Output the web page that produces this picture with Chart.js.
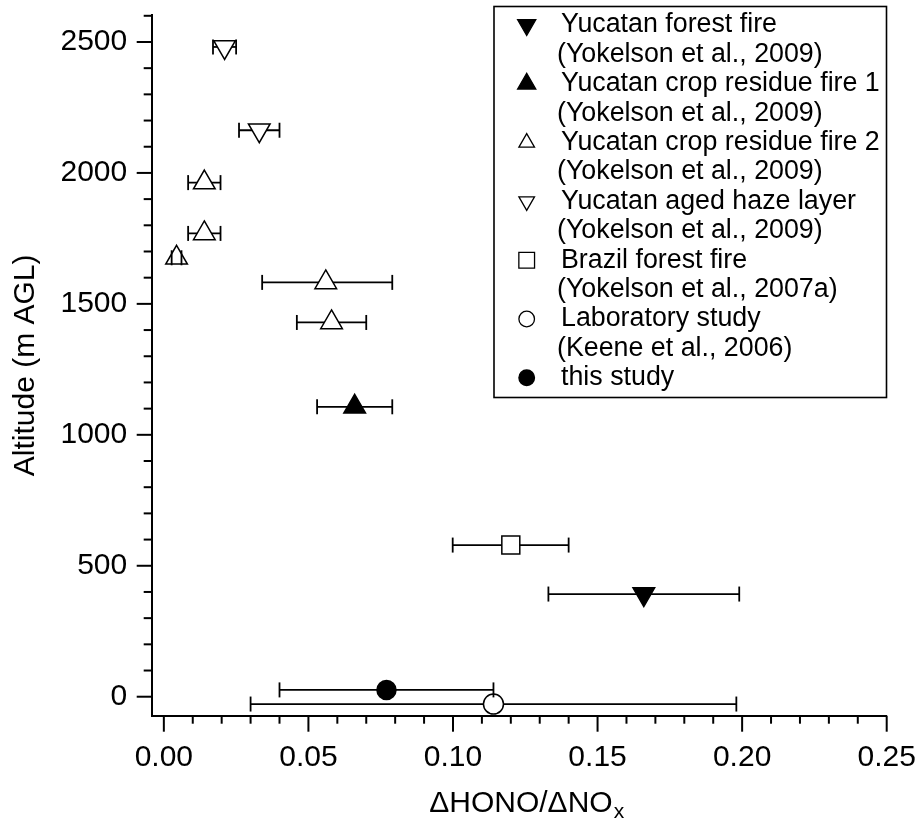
<!DOCTYPE html>
<html><head><meta charset="utf-8">
<script src="https://cdn.jsdelivr.net/npm/chart.js@4.4.1/dist/chart.umd.min.js"></script>
<style>html,body{margin:0;padding:0;background:#fff;}canvas{display:block;}</style>
</head><body>
<canvas id="c" width="918" height="820"></canvas>
<script>
// ---- data ----
const seriesNames = ['Yucatan forest fire','Yucatan crop residue fire 1','Yucatan crop residue fire 2','Yucatan aged haze layer','Brazil forest fire','Laboratory study','this study'];
const seriesRefs  = ['(Yokelson et al., 2009)','(Yokelson et al., 2009)','(Yokelson et al., 2009)','(Yokelson et al., 2009)','(Yokelson et al., 2007a)','(Keene et al., 2006)',''];

const forestFireX  = [0.166];
const forestFireY  = [392];
const forestFireLo = [0.133];
const forestFireHi = [0.199];

const crop1X  = [0.066];
const crop1Y  = [1107];
const crop1Lo = [0.053];
const crop1Hi = [0.079];

const crop2X  = [0.058, 0.056, 0.0044, 0.014, 0.014];
const crop2Y  = [1429, 1582, 1676, 1769, 1963];
const crop2Lo = [0.046, 0.034, 0.0027, 0.0084, 0.0084];
const crop2Hi = [0.070, 0.079, 0.0061, 0.0196, 0.0196];

const hazeX  = [0.033, 0.021];
const hazeY  = [2163, 2481];
const hazeLo = [0.026, 0.017];
const hazeHi = [0.040, 0.025];

const brazilX  = [0.120];
const brazilY  = [579];
const brazilLo = [0.0999];
const brazilHi = [0.140];

const labX  = [0.114];
const labY  = [-28];
const labLo = [0.030];
const labHi = [0.198];

const thisX  = [0.077];
const thisY  = [26];
const thisLo = [0.040];
const thisHi = [0.114];

const xTickValues = [0, 0.05, 0.10, 0.15, 0.20, 0.25];
const yTickValues = [0, 500, 1000, 1500, 2000, 2500];

// ---- build ----
function pts(xs, ys, lo, hi){ return xs.map((x,i)=>({x:x, y:ys[i], lo:lo[i], hi:hi[i]})); }

const styles = [
  {style:'triangle', rot:180, fill:'#000', r:12.5, lr:10.5},
  {style:'triangle', rot:0,   fill:'#000', r:12.5, lr:10.5},
  {style:'triangle', rot:0,   fill:'#fff', r:12.5, lr:9},
  {style:'triangle', rot:180, fill:'#fff', r:12.5, lr:9},
  {style:'rect',     rot:0,   fill:'#fff', r:12.7, lr:11.1},
  {style:'circle',   rot:0,   fill:'#fff', r:10,   lr:7.8},
  {style:'circle',   rot:0,   fill:'#000', r:9.5,  lr:7.8}
];
const allData = [
  pts(forestFireX, forestFireY, forestFireLo, forestFireHi),
  pts(crop1X, crop1Y, crop1Lo, crop1Hi),
  pts(crop2X, crop2Y, crop2Lo, crop2Hi),
  pts(hazeX, hazeY, hazeLo, hazeHi),
  pts(brazilX, brazilY, brazilLo, brazilHi),
  pts(labX, labY, labLo, labHi),
  pts(thisX, thisY, thisLo, thisHi)
];

const datasets = allData.map((d,i)=>({
  label: seriesNames[i],
  data: d,
  showLine: false,
  pointStyle: styles[i].style,
  pointRotation: styles[i].rot,
  pointRadius: styles[i].r,
  pointHoverRadius: styles[i].r,
  pointBackgroundColor: styles[i].fill,
  pointBorderColor: '#000',
  pointBorderWidth: 1.5,
  clip: false
}));

const FONT = "'Liberation Sans', Arial, Helvetica, sans-serif";

const errorBarPlugin = {
  id: 'errbars',
  beforeDatasetsDraw(chart){
    const {ctx, scales:{x, y}} = chart;
    ctx.save(); ctx.strokeStyle = '#000'; ctx.lineWidth = 1.8;
    chart.data.datasets.forEach(ds => ds.data.forEach(p => {
      const py = y.getPixelForValue(p.y);
      ctx.beginPath();
      ctx.moveTo(x.getPixelForValue(p.lo), py);
      ctx.lineTo(x.getPixelForValue(p.hi), py);
      ctx.stroke();
    }));
    ctx.restore();
  },
  afterDatasetsDraw(chart){
    const {ctx, scales:{x, y}} = chart;
    ctx.save(); ctx.strokeStyle = '#000'; ctx.lineWidth = 1.8;
    chart.data.datasets.forEach(ds => ds.data.forEach(p => {
      const py = y.getPixelForValue(p.y);
      [p.lo, p.hi].forEach(v => {
        const px = x.getPixelForValue(v);
        ctx.beginPath(); ctx.moveTo(px, py - 7.5); ctx.lineTo(px, py + 7.5); ctx.stroke();
      });
    }));
    ctx.restore();
  }
};

function drawSymbol(ctx, st, cx, cy, r){
  ctx.save();
  ctx.fillStyle = st.fill; ctx.strokeStyle = '#000'; ctx.lineWidth = 1.3;
  ctx.beginPath();
  if (st.style === 'triangle'){
    const s = st.rot === 180 ? -1 : 1;
    ctx.moveTo(cx, cy - s*r);
    ctx.lineTo(cx + 0.866*r, cy + s*r/2);
    ctx.lineTo(cx - 0.866*r, cy + s*r/2);
    ctx.closePath();
  } else if (st.style === 'rect'){
    const h = r*Math.SQRT1_2;
    ctx.rect(cx - h, cy - h, 2*h, 2*h);
  } else {
    ctx.arc(cx, cy, r, 0, Math.PI*2);
  }
  ctx.fill(); ctx.stroke();
  ctx.restore();
}

const decorPlugin = {
  id: 'decor',
  afterDraw(chart){
    const {ctx, scales:{x, y}, chartArea} = chart;
    ctx.save();
    ctx.strokeStyle = '#000'; ctx.lineWidth = 2;
    // y ticks (major every 500, minor every 100)
    for (let i = 0; i <= 26; i++){
      const v = i*100; if (v > y.max) break;
      const py = y.getPixelForValue(v);
      const len = (i % 5 === 0) ? 15 : 8;
      ctx.beginPath(); ctx.moveTo(chartArea.left, py); ctx.lineTo(chartArea.left - len, py); ctx.stroke();
    }
    // x ticks (major every 0.05, minor every 0.01)
    for (let i = 0; i <= 25; i++){
      const px = x.getPixelForValue(i/100);
      const len = (i % 5 === 0) ? 16 : 8;
      ctx.beginPath(); ctx.moveTo(px, chartArea.bottom); ctx.lineTo(px, chartArea.bottom + len); ctx.stroke();
    }
    // x title with subscript
    ctx.fillStyle = '#000';
    ctx.textBaseline = 'alphabetic';
    ctx.font = '30px ' + FONT;
    const main = '\u0394HONO/\u0394NO';
    const wMain = ctx.measureText(main).width;
    ctx.font = '21px ' + FONT;
    const wSub = ctx.measureText('x').width;
    const cx = (chartArea.left + chartArea.right)/2 + 7;
    const x0 = cx - (wMain + wSub)/2;
    const base = 812;
    ctx.font = '30px ' + FONT;
    ctx.textAlign = 'left';
    ctx.fillText(main, x0, base);
    ctx.font = '21px ' + FONT;
    ctx.fillText('x', x0 + wMain + 1, base + 6);

    // legend
    const L = 494, T = 6.5, R = 886.5, B = 397.5;
    ctx.fillStyle = '#fff';
    ctx.fillRect(L, T, R - L, B - T);
    ctx.strokeStyle = '#000'; ctx.lineWidth = 1.6;
    ctx.strokeRect(L, T, R - L, B - T);
    ctx.fillStyle = '#000';
    ctx.font = '26.8px ' + FONT;
    ctx.textBaseline = 'middle';
    let line = 0;
    seriesNames.forEach((name, i) => {
      const yy = 25 + 29.4*line;
      drawSymbol(ctx, styles[i], 526.7, yy, styles[i].lr);
      ctx.fillStyle = '#000';
      ctx.fillText(name, 561, yy);
      line++;
      if (seriesRefs[i]){
        ctx.fillText(seriesRefs[i], 557, 25 + 29.4*line);
        line++;
      }
    });
    ctx.restore();
  }
};

Chart.defaults.font.family = FONT;
Chart.defaults.color = '#000';

new Chart(document.getElementById('c'), {
  type: 'scatter',
  data: { datasets: datasets },
  options: {
    responsive: false,
    animation: false,
    devicePixelRatio: 1,
    events: [],
    layout: { autoPadding: false, padding: { left: 0, top: 15, right: 31.3, bottom: 0 } },
    plugins: { legend: { display: false }, tooltip: { enabled: false } },
    scales: {
      x: {
        type: 'linear', min: -0.0042, max: 0.25,
        afterBuildTicks: (s) => { s.ticks = xTickValues.map(v => ({value: v})); },
        afterFit: (s) => { s.height = 104.3; s.paddingLeft = 0; s.paddingRight = 0; s.paddingTop = 0; s.paddingBottom = 0; },
        grid: { display: false, drawTicks: false },
        border: { display: true, color: '#000', width: 2 },
        ticks: { padding: 24, font: { size: 30 }, color: '#000', maxRotation: 0,
                 callback: (v) => Number(v).toFixed(2) },
        title: { display: false }
      },
      y: {
        type: 'linear', min: -72.5, max: 2603,
        afterBuildTicks: (s) => { s.ticks = yTickValues.map(v => ({value: v})); },
        afterFit: (s) => { s.width = 151.7; s.paddingLeft = 0; s.paddingRight = 0; s.paddingTop = 0; s.paddingBottom = 0; },
        grid: { display: false, drawTicks: false },
        border: { display: true, color: '#000', width: 2 },
        ticks: { padding: 24.5, font: { size: 30 }, color: '#000',
                 callback: (v) => String(v) },
        title: { display: true, text: 'Altitude (m AGL)', font: { size: 30 }, color: '#000',
                 padding: { top: 8, bottom: 0 } }
      }
    }
  },
  plugins: [errorBarPlugin, decorPlugin]
});
</script>
</body></html>
